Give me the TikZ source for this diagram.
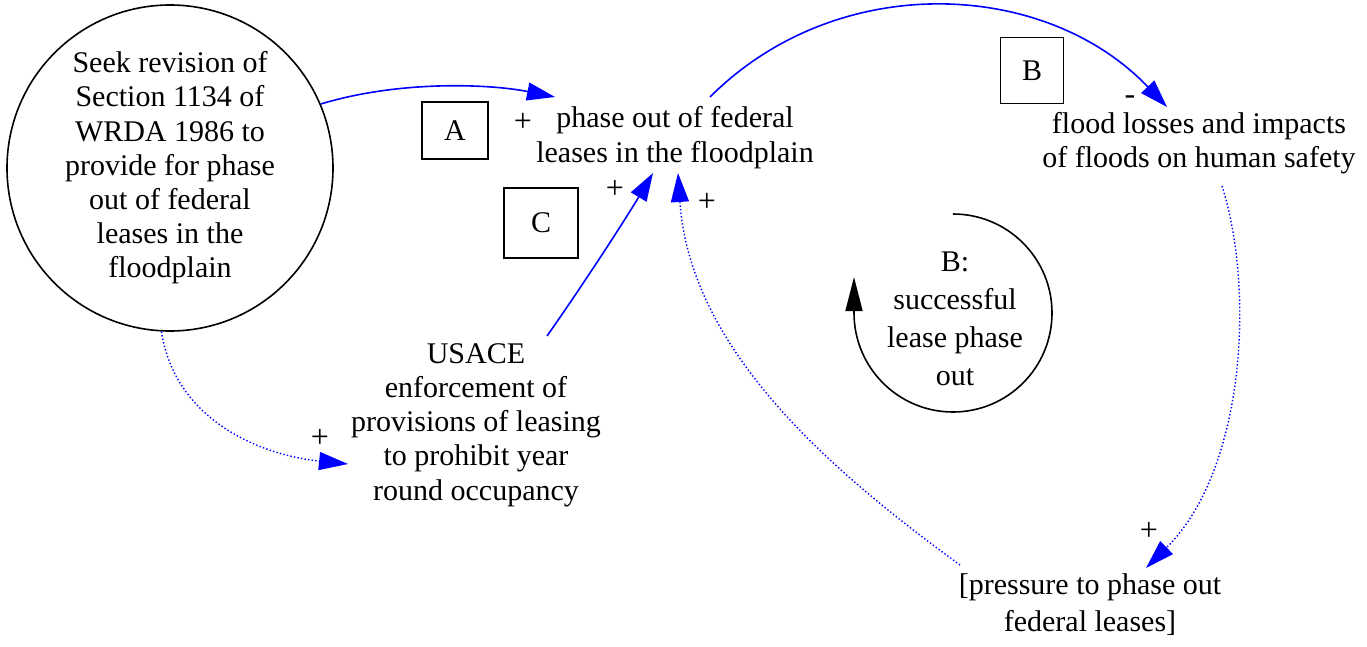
\documentclass[tikz,border=0pt]{standalone}
\usepackage{fontspec}
\setmainfont{Liberation Serif}
\usetikzlibrary{arrows.meta}
\tikzset{
  lbl/.style={align=center, inner sep=0pt},
  sz34/.style={font=\fontsize{30}{34.2}\selectfont},
  sz35/.style={font=\fontsize{30}{35}\selectfont},
  sz37/.style={font=\fontsize{30}{37}\selectfont},
  sz38/.style={font=\fontsize{30}{38}\selectfont},
  sign/.style={inner sep=0pt, font=\fontsize{32}{32}\selectfont},
  letterbox/.style={draw, line width=1.6pt, inner sep=0pt, font=\fontsize{30}{30}\selectfont},
  solidlink/.style={draw=blue, line width=1.6pt, -{Triangle[length=28pt,width=18pt]}},
  dotlink/.style={draw=blue, line width=1.4pt, dash pattern=on 1.4pt off 2.2pt, -{Triangle[length=29pt,width=18pt]}},
  looparrow/.style={draw=black, line width=1.6pt, -{Triangle[length=34pt,width=17pt]}}
}
\begin{document}
\begin{tikzpicture}[x=1pt,y=1pt]
\useasboundingbox (0,0) rectangle (1367,-647);
% nodes
\node[circle, draw, line width=1.6pt, minimum size=326pt, inner sep=0pt, align=center, sz34] (seek) at (170,-168)
  {Seek revision of\\Section 1134 of\\WRDA 1986 to\\provide for phase\\out of federal\\leases in the\\floodplain};
\node[lbl, sz35] (phase) at (675,-137.5) {phase out of federal\\leases in the floodplain};
\node[lbl, sz34] (flood) at (1199,-143.5) {flood losses and impacts\\of floods on human safety};
\node[lbl, sz34] (usace) at (476,-425) {USACE\\enforcement of\\provisions of leasing\\to prohibit year\\round occupancy};
\node[lbl, sz37] (pressure) at (1090,-605) {[pressure to phase out\\federal leases]};
\node[lbl, sz38] (looptxt) at (955,-319) {B:\\successful\\lease phase\\out};
% letter boxes
\node[letterbox, minimum width=66pt, minimum height=57pt] (boxA) at (455,-130.5) {A};
\node[letterbox, minimum width=63pt, minimum height=66pt] (boxB) at (1032,-70.5) {B};
\node[letterbox, minimum width=74pt, minimum height=70pt] (boxC) at (541,-223) {C};
% signs
\node[sign] (sA) at (523,-122) {+};
\node[sign] (sC1) at (615,-189) {+};
\node[sign] (sC2) at (707,-202) {+};
\node[sign] (sU) at (320,-438) {+};
\node[sign] (sP) at (1149,-531) {+};
\node[sign] (sM) at (1130,-100) {-};
% connectors
\draw[solidlink] (seek.23) .. controls (400,-80) and (490,-84) .. ([shift={(-120,40.5)}]phase.center);
\draw[solidlink] ([shift={(35,40.5)}]phase.center) .. controls (837,30) and (1045,21) .. ([shift={(-32,36.5)}]flood.center);
\draw[solidlink] ([shift={(71,89)}]usace.center) .. controls (578,-292) and (622,-225) .. ([shift={(-22,-35.5)}]phase.center);
\draw[dotlink] ([shift={(-130,40)}]pressure.center) .. controls (838,-476) and (690,-353) .. ([shift={(3,-35.5)}]phase.center);
\draw[dotlink] ([shift={(23,-42.5)}]flood.center) .. controls (1255,-290) and (1245,-470) .. ([shift={(56,37)}]pressure.center);
\draw[dotlink] (seek.-93) .. controls (175,-420) and (260,-455) .. ([shift={(-128,-39)}]usace.center);
% loop marker
\draw[looparrow] ([shift={(-2,105)}]looptxt.center) arc[start angle=90, end angle=-180, radius=99] -- ++(0,36);
\end{tikzpicture}
\end{document}
